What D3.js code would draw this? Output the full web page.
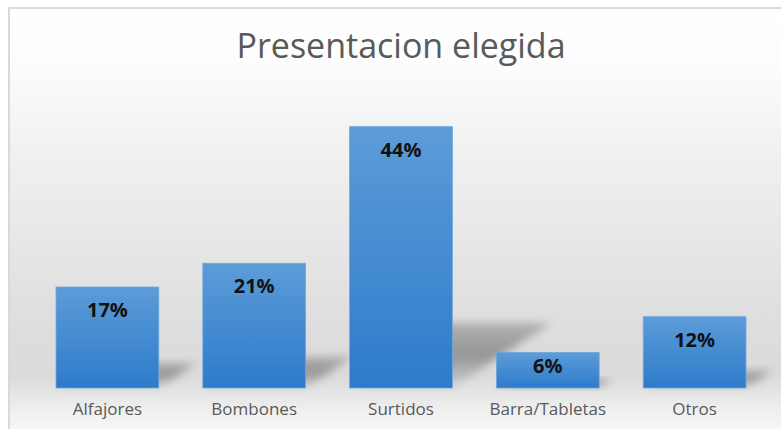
<!DOCTYPE html>
<html>
<head>
<meta charset="utf-8">
<script src="https://cdn.jsdelivr.net/npm/d3@7"></script>
<style>
  body { margin: 0; background: #fff; }
  svg { display: block; }
</style>
</head>
<body>
<div id="chart"></div>
<script>
// Chart data
const categories = ["Alfajores", "Bombones", "Surtidos", "Barra/Tabletas", "Otros"];
const values = [17, 21, 44, 6, 12];
const valueLabels = ["17%", "21%", "44%", "6%", "12%"];
const titleText = "Presentacion elegida";

const W = 781, H = 429;
const plot = {left: 34, right: 768, top: 91, bottom: 388};

const svg = d3.select("#chart").append("svg")
    .attr("width", W)
    .attr("height", H);

const defs = svg.append("defs");

// background gradient of the chart area
const bg = defs.append("linearGradient")
    .attr("id", "bg-grad")
    .attr("x1", 0).attr("y1", 0).attr("x2", 0).attr("y2", 1);
[[0, "#ffffff"], [0.14, "#fcfcfc"], [0.33, "#f1f1f1"], [0.75, "#dddddd"],
 [0.86, "#dbdbdb"], [0.94, "#f0f0f0"], [1, "#f9f9f9"]]
    .forEach(function(s){
        bg.append("stop").attr("offset", s[0]).attr("stop-color", s[1]);
    });

// bar gradient
const barGrad = defs.append("linearGradient")
    .attr("id", "bar-grad")
    .attr("x1", 0).attr("y1", 0).attr("x2", 0).attr("y2", 1);
barGrad.append("stop").attr("offset", 0).attr("stop-color", "#5c9cd8");
barGrad.append("stop").attr("offset", 1).attr("stop-color", "#2e7bcb");

// shadow gradient & blur
const shGrad = defs.append("linearGradient")
    .attr("id", "sh-grad")
    .attr("x1", 0).attr("y1", 1).attr("x2", 0).attr("y2", 0);
shGrad.append("stop").attr("offset", 0).attr("stop-color", "#000").attr("stop-opacity", 0.04);
shGrad.append("stop").attr("offset", 0.5).attr("stop-color", "#000").attr("stop-opacity", 0.32);
shGrad.append("stop").attr("offset", 1).attr("stop-color", "#000").attr("stop-opacity", 0.2);

const blur = defs.append("filter")
    .attr("id", "blur")
    .attr("x", "-30%").attr("y", "-30%").attr("width", "160%").attr("height", "160%");
blur.append("feGaussianBlur").attr("stdDeviation", 4);

// chart area
svg.append("rect")
    .attr("x", 9).attr("y", 8)
    .attr("width", W).attr("height", H)
    .attr("fill", "url(#bg-grad)")
    .attr("stroke", "#d9d9d9")
    .attr("stroke-width", 2);

// title
svg.append("text")
    .attr("x", 401)
    .attr("y", 58)
    .attr("text-anchor", "middle")
    .style("font-family", "'Open Sans', sans-serif")
    .style("font-size", "34px")
    .attr("fill", "#595959")
    .text(titleText);

// scales
const x = d3.scaleBand()
    .domain(categories)
    .range([plot.left, plot.right])
    .paddingInner(0.3)
    .paddingOuter(0.15);

const y = d3.scaleLinear()
    .domain([0, 50])
    .range([plot.bottom, plot.top]);

const data = categories.map(function(c, i){
    return {cat: c, value: values[i], label: valueLabels[i]};
});

// shadows (perspective cast to the upper right)
svg.append("g").selectAll("path")
    .data(data)
    .enter().append("path")
    .attr("d", function(d){
        const x0 = x(d.cat), x1 = x0 + x.bandwidth();
        const h = y(0) - y(d.value);
        const dx = h * 0.38, dy = h * 0.25;
        const b = y(0);
        return "M" + x0 + "," + b + "L" + x1 + "," + b +
            "L" + (x1 + dx) + "," + (b - dy) + "L" + (x0 + dx) + "," + (b - dy) + "Z";
    })
    .attr("fill", "url(#sh-grad)")
    .attr("filter", "url(#blur)");

// bars
svg.append("g").selectAll("rect")
    .data(data)
    .enter().append("rect")
    .attr("x", function(d){ return x(d.cat); })
    .attr("y", function(d){ return y(d.value); })
    .attr("width", x.bandwidth())
    .attr("height", function(d){ return y(0) - y(d.value); })
    .attr("fill", "url(#bar-grad)")
    .attr("stroke", "#6ea8dd")
    .attr("stroke-width", 0.8);

// value labels
svg.append("g").selectAll("text")
    .data(data)
    .enter().append("text")
    .attr("x", function(d){ return x(d.cat) + x.bandwidth() / 2; })
    .attr("y", function(d){
        const h = y(0) - y(d.value);
        return y(d.value) + Math.min(30, h - 15);
    })
    .attr("text-anchor", "middle")
    .style("font-family", "'Open Sans', sans-serif")
    .style("font-weight", 700)
    .style("font-size", "20px")
    .attr("fill", "#111")
    .text(function(d){ return d.label; });

// category axis
const xAxis = svg.append("g")
    .attr("transform", "translate(0," + plot.bottom + ")")
    .call(d3.axisBottom(x).tickSize(0).tickPadding(15));
xAxis.select(".domain").remove();
xAxis.selectAll("text")
    .style("font-family", "'Open Sans', sans-serif")
    .style("font-size", "17px")
    .attr("fill", "#595959");
</script>
</body>
</html>
